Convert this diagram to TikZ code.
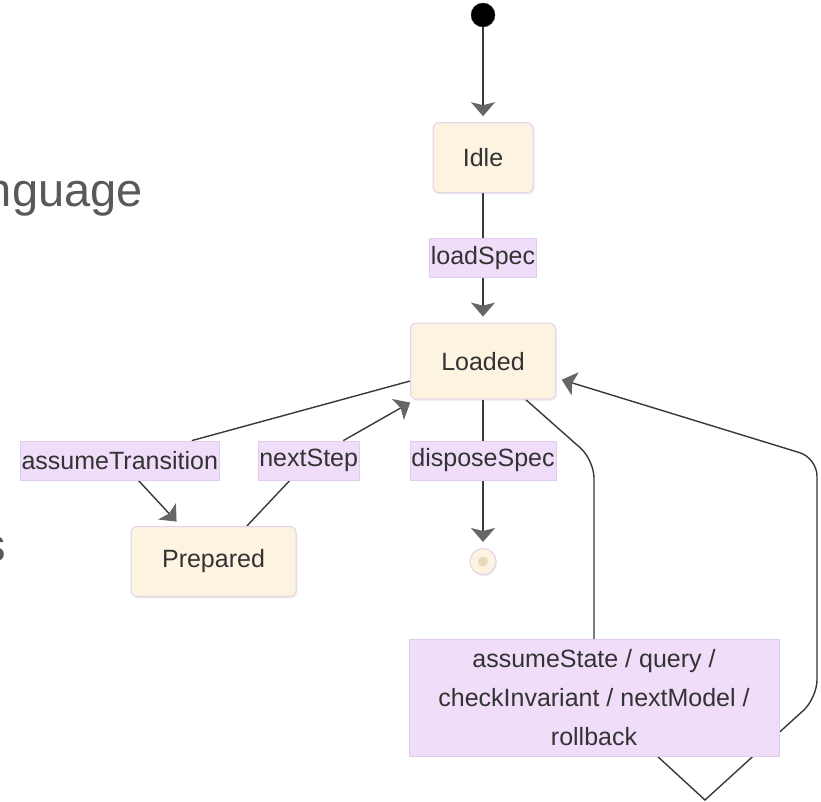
\documentclass[tikz,border=0pt]{standalone}
\usepackage{fontspec}
\setmainfont{Liberation Sans}
\usetikzlibrary{
  arrows.meta,
  positioning,
  backgrounds,
  shadows
}
\definecolor{stateFill}{HTML}{FDF3E1}
\definecolor{stateDraw}{HTML}{E4D2E8}
\definecolor{lblFill}{HTML}{EFDDFA}
\definecolor{lblDraw}{HTML}{E2CCEE}
\definecolor{lineC}{HTML}{383838}
\definecolor{tipC}{HTML}{666666}
\definecolor{textC}{HTML}{333333}
\definecolor{slideC}{HTML}{595959}
\definecolor{dotC}{HTML}{E8D9BC}
\tikzset{
  every node/.style={align=center, text=textC},
  state/.style={draw=stateDraw, fill=stateFill, rounded corners=6pt, line width=1pt,
    minimum height=70pt,
    drop shadow={shadow xshift=1.5pt, shadow yshift=-2pt, opacity=0.12}},
  lbl/.style={draw=lblDraw, fill=lblFill, inner xsep=1.5pt, inner ysep=0pt,
    minimum height=39pt},
  trans/.style={draw=lineC, line width=1.4pt, shorten >=6pt,
    -{Stealth[length=14pt, width=24pt, inset=3pt, color=tipC, fill=tipC]}},
}

\begin{document}
\begin{tikzpicture}[x=1pt, y=-1pt]
      \fontsize{25}{30}\selectfont
      \useasboundingbox (0,0) rectangle (821,802);
      % slide text behind the diagram
      \node (slideA) [anchor=base east, inner sep=0, text=slideC,
        font=\fontsize{47}{50}\selectfont] at (143,207) {nguage};
      \node (slideB) [anchor=base east, inner sep=0, text=slideC,
        font=\fontsize{47}{50}\selectfont] at (6,561) {s};

      \node (init) [circle, fill=black, draw=black!80, minimum size=24pt,
        inner sep=0] at (483,15) {};
      \node (idle) [state, minimum width=100pt, below=95pt of init] {Idle};
      \node (lblLoad) [lbl, below=45pt of idle] {loadSpec};
      \node (loaded) [state, minimum width=145pt, minimum height=76pt,
        below=45pt of lblLoad] {Loaded};
      \node (lblDispose) [lbl, below=41pt of loaded] {disposeSpec};
      \node (final) [circle, fill=stateFill, draw=stateDraw, line width=1pt,
        minimum size=26pt, inner sep=0, below=68pt of lblDispose,
        drop shadow={shadow xshift=1pt, shadow yshift=-2pt, opacity=0.12}] {};
      \fill[dotC] (final) circle (5pt);
      \node (prepared) [state, minimum width=165pt, left=173pt of final] {Prepared};
      \node (lblNext) [lbl, left=50pt of lblDispose] {nextStep};
      \node (lblAssume) [lbl, left=38pt of lblNext] {assumeTransition};
      \node (lblLoop) [lbl, inner xsep=0pt, minimum width=370pt, minimum height=117pt,
        font=\fontsize{25}{39}\selectfont] at (594,698)
        {assumeState / query /\\ checkInvariant / nextModel /\\ rollback};

      \coordinate (loopA) at (594,460);
      \coordinate (loopB) at (705,800);
      \coordinate (loopC) at (817,698);
      \coordinate (loopD) at (817,458);

      \begin{scope}[on background layer]
        \draw[trans] (init) -- (idle);
        \draw[trans] (idle) -- (lblLoad) -- (loaded);
        \draw[trans] (loaded) -- (lblAssume) -- (prepared);
        \draw[trans] (prepared) -- (lblNext) -- (loaded);
        \draw[trans] (loaded) -- (lblDispose) -- (final);
        \draw[trans] (loaded.-42) [rounded corners=18pt] -- (loopA)
          -- (lblLoop.center) [sharp corners] -- (loopB)
          [rounded corners=18pt] -- (loopC) -- (loopD) -- (loaded.-13);
      \end{scope}
    \end{tikzpicture}
\end{document}
